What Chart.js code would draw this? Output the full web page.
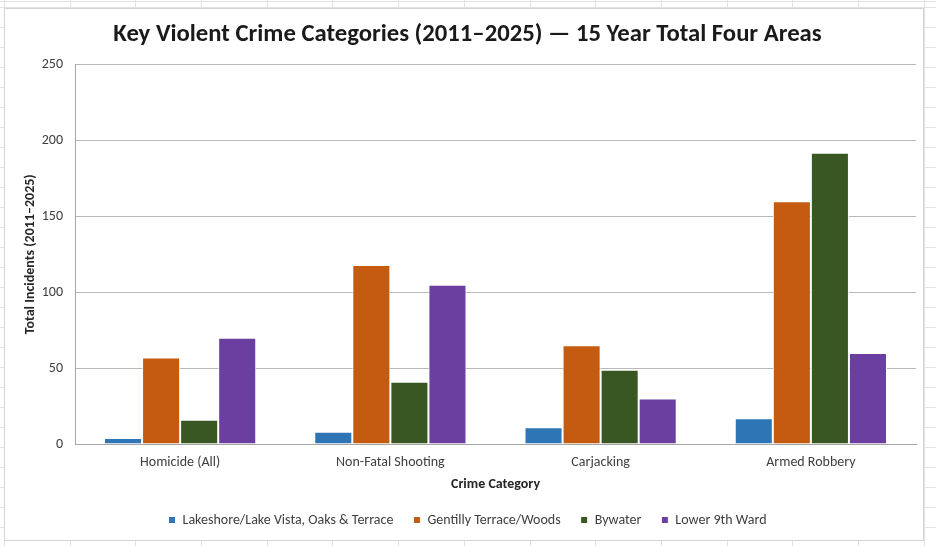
<!DOCTYPE html>
<html>
<head>
<meta charset="utf-8">
<script src="https://cdn.jsdelivr.net/npm/chart.js@4.4.1/dist/chart.umd.min.js"></script>
<style>
  html, body { margin: 0; padding: 0; }
  body {
    width: 936px; height: 546px; overflow: hidden; position: relative;
    background-color: #fff;
    background-image:
      repeating-linear-gradient(to right, #e2e2e2 0 1px, transparent 1px 65.7px),
      repeating-linear-gradient(to bottom, #e2e2e2 0 1px, transparent 1px 20px);
    background-position: 4px 7px, 0 7px;
  }
  #box {
    position: absolute; left: 4px; top: 8px; width: 918px; height: 531px;
    background: #fff; border: 1px solid #d4d4d4;
  }
</style>
</head>
<body>
<div id="box"><canvas id="crimeChart" width="918" height="531"></canvas></div>
<script>
// categorias e valores (totais 2011-2025)
var categories = ['Homicide (All)', 'Non-Fatal Shooting', 'Carjacking', 'Armed Robbery']
var lakeshore = [4, 8, 11, 17]
var gentilly = [57, 118, 65, 160]
var bywater = [16, 41, 49, 192]
var lower9th = [70, 105, 30, 60]
var yTicks = [0, 50, 100, 150, 200, 250]

var fontFamily = 'Carlito, Lato, "Open Sans", sans-serif'

var data = {
  labels: categories,
  datasets: [
    { label: 'Lakeshore/Lake Vista, Oaks & Terrace', data: lakeshore, backgroundColor: '#2E75B6' },
    { label: 'Gentilly Terrace/Woods', data: gentilly, backgroundColor: '#C55A11' },
    { label: 'Bywater', data: bywater, backgroundColor: '#385723' },
    { label: 'Lower 9th Ward', data: lower9th, backgroundColor: '#6B3FA0' }
  ]
}
data.datasets.forEach(function (ds) {
  ds.borderColor = '#ffffff'
  ds.borderWidth = 1
  ds.categoryPercentage = 0.724
  ds.barPercentage = 1.0
})

// altura fixa da legenda (o padding horizontal empurrava-a para baixo)
var legendFit = {
  id: 'legendFit',
  beforeLayout: function (chart) {
    var lg = chart.legend
    if (lg && !lg._fitPatched) {
      var origFit = lg.fit
      lg.fit = function () {
        origFit.call(this)
        this.height = 47
      }
      lg._fitPatched = true
    }
  }
}

var options = {
  responsive: false,
  animation: false,
  layout: { padding: { left: 14, right: 7, top: 0, bottom: 0 } },
  plugins: {
    title: {
      display: true,
      text: 'Key Violent Crime Categories (2011\u20132025) \u2014 15 Year Total Four Areas',
      color: '#1a1a1a',
      font: { family: fontFamily, size: 24.7, weight: 'bold' },
      padding: { top: 11, bottom: 15 }
    },
    legend: {
      position: 'bottom',
      labels: {
        color: '#404040',
        font: { family: fontFamily, size: 14 },
        boxWidth: 7, boxHeight: 7,
        padding: 20
      }
    },
    tooltip: { enabled: false }
  },
  scales: {
    x: {
      afterFit: function (scale) { scale.height = 49 },
      grid: { display: false, drawTicks: false },
      border: { display: true, color: '#a6a6a6' },
      ticks: { color: '#404040', font: { family: fontFamily, size: 14 }, padding: 10 },
      title: {
        display: true, text: 'Crime Category', color: '#262626',
        font: { family: fontFamily, size: 14, weight: 'bold' },
        padding: { top: 3, bottom: 0 }
      }
    },
    y: {
      min: 0, max: 250,
      afterBuildTicks: function (scale) {
        scale.ticks = yTicks.map(function (v) { return { value: v } })
      },
      afterFit: function (scale) { scale.width = 56 },
      grid: { color: '#b8b8b8', drawTicks: false },
      border: { display: true, color: '#a6a6a6' },
      ticks: { color: '#404040', font: { family: fontFamily, size: 14 }, padding: 12 },
      title: {
        display: true, text: 'Total Incidents (2011\u20132025)', color: '#262626',
        font: { family: fontFamily, size: 14, weight: 'bold' },
        padding: { top: 3, bottom: 4 }
      }
    }
  }
}

var chart = new Chart('crimeChart', { type: 'bar', data: data, options: options, plugins: [legendFit] })
</script>
</body>
</html>
